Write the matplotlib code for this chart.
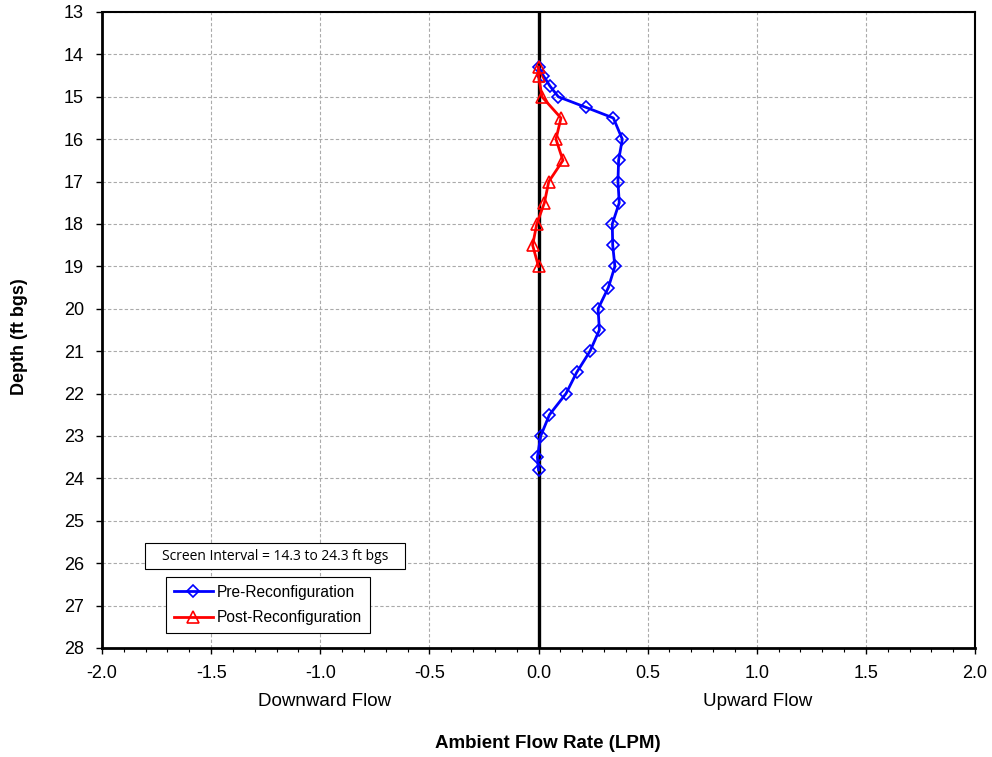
import matplotlib
matplotlib.use("Agg")
import matplotlib.pyplot as plt
from matplotlib.ticker import MultipleLocator
from matplotlib.patches import Rectangle

plt.rcParams['font.family'] = ['Liberation Sans', 'DejaVu Sans']

pre_depth = [14.3, 14.5, 14.75, 15.0, 15.25, 15.5, 16.0, 16.5, 17.0, 17.5, 18.0, 18.5, 19.0,
             19.5, 20.0, 20.5, 21.0, 21.5, 22.0, 22.5, 23.0, 23.5, 23.8]
pre_flow = [0.0, 0.022, 0.053, 0.091, 0.218, 0.343, 0.384, 0.367, 0.364, 0.37, 0.338, 0.34, 0.35,
            0.32, 0.273, 0.279, 0.236, 0.175, 0.126, 0.05, 0.01, -0.005, 0.0]

post_depth = [14.3, 14.5, 15.0, 15.5, 16.0, 16.5, 17.0, 17.5, 18.0, 18.5, 19.0]
post_flow = [0.0, 0.0, 0.016, 0.103, 0.08, 0.112, 0.047, 0.027, -0.008, -0.027, 0.0]

x_ticks = [-2.0, -1.5, -1.0, -0.5, 0.0, 0.5, 1.0, 1.5, 2.0]
y_ticks = list(range(13, 29))

fig = plt.figure(figsize=(9.92, 7.57), dpi=100)
ax = fig.add_axes([102/992, 1-648/757, (975-102)/992, (648-12)/757])

ax.set_xlim(-2, 2)
ax.set_ylim(28, 13)
ax.set_xticks(x_ticks)
ax.set_xticklabels([f"{v:.1f}" for v in x_ticks])
ax.xaxis.set_minor_locator(MultipleLocator(0.1))
ax.set_yticks(y_ticks)
ax.tick_params(axis='both', which='major', labelsize=13, direction='out', length=4, width=1)
ax.tick_params(axis='x', which='minor', direction='out', length=3, width=0.8)
ax.tick_params(axis='x', pad=8)
ax.tick_params(axis='y', pad=9)

ax.grid(True, which='major', linestyle=(0, (3, 2)), color='#aaaaaa', linewidth=0.8)
ax.set_axisbelow(True)

for s in ['left', 'bottom']:
    ax.spines[s].set_linewidth(2)
for s in ['top', 'right']:
    ax.spines[s].set_linewidth(1.5)

ax.axvline(0, color='black', linewidth=2.4, zorder=2)

ax.plot(pre_flow, pre_depth, color='#0000ff', linewidth=2.0, marker='D', markersize=6,
        markerfacecolor='none', markeredgecolor='#0000ff', markeredgewidth=1.2,
        label='Pre-Reconfiguration', zorder=3)
ax.plot(post_flow, post_depth, color='#ff0000', linewidth=2.0, marker='^', markersize=8,
        markerfacecolor='none', markeredgecolor='#ff0000', markeredgewidth=1.2,
        label='Post-Reconfiguration', zorder=3)

leg = ax.legend(loc='upper left', bbox_to_anchor=(166/992, 1-577/757),
                bbox_transform=fig.transFigure, fontsize=11.2, frameon=True,
                fancybox=False, edgecolor='black', framealpha=1, handlelength=2.5,
                borderpad=0.5, labelspacing=0.68, handletextpad=0.25, borderaxespad=0)
leg.get_frame().set_linewidth(0.8)

fig.patches.append(Rectangle((145/992, 1-569/757), (405-145)/992, (569-543)/757,
                             transform=fig.transFigure, facecolor='white', edgecolor='black',
                             linewidth=0.8, zorder=5))
fig.text(275/992, 1-556/757, 'Screen Interval = 14.3 to 24.3 ft bgs', fontsize=10,
         family=['Open Sans', 'DejaVu Sans'], ha='center', va='center', zorder=6)

fig.text(325/992, 1-701/757, 'Downward Flow', fontsize=13.5, ha='center', va='center')
fig.text(758/992, 1-701/757, 'Upward Flow', fontsize=13.5, ha='center', va='center')
fig.text(548/992, 1-744/757, 'Ambient Flow Rate (LPM)', fontsize=13.5, fontweight='bold',
         ha='center', va='center')
fig.text(20/992, 1-337/757, 'Depth (ft bgs)', fontsize=13, fontweight='bold',
         ha='center', va='center', rotation=90)

fig.savefig('out.png', dpi=100)
